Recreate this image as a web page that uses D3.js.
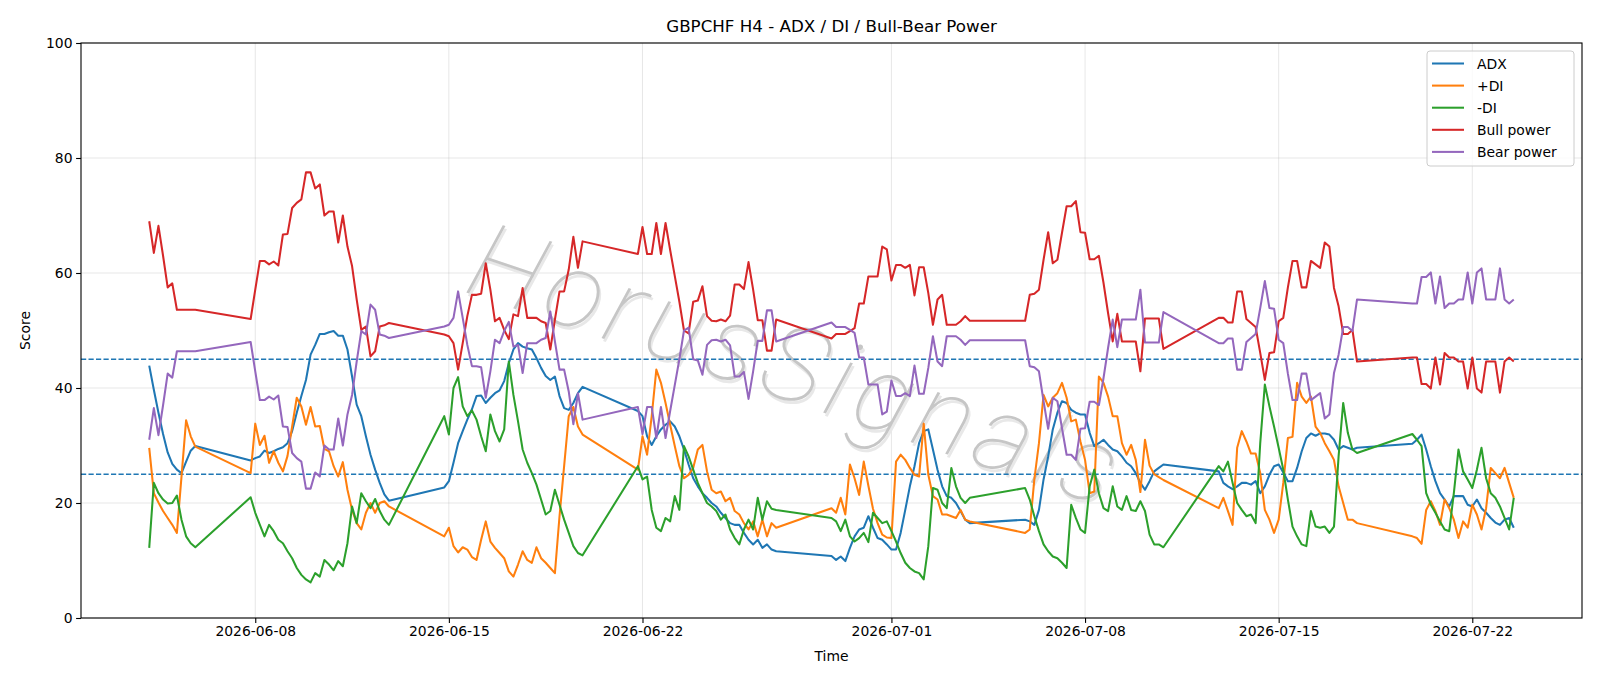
<!DOCTYPE html>
<html><head><meta charset="utf-8">
<script src="https://cdn.jsdelivr.net/npm/d3@7"></script>
<style>
body{margin:0;background:#fff}
svg{display:block}
text{font-family:"DejaVu Sans",sans-serif;fill:#000}
</style>
</head><body>
<svg id="chart" width="1600" height="686"></svg>
<script>
// H4 bar sessions: [first bar time (UTC), number of 4-hour bars]
const sessions = [
  ["2026-06-04T04:00:00Z", 11],
  ["2026-06-07T20:00:00Z", 31],
  ["2026-06-14T20:00:00Z", 31],
  ["2026-06-21T20:00:00Z", 31],
  ["2026-06-28T20:00:00Z", 31],
  ["2026-07-05T20:00:00Z", 31],
  ["2026-07-12T20:00:00Z", 31],
  ["2026-07-19T20:00:00Z", 23]
];
const xTickLabels = ["2026-06-08","2026-06-15","2026-06-22","2026-07-01","2026-07-08","2026-07-15","2026-07-22"];
const yTicks = [0,20,40,60,80,100];
const thresholds = [25,45];
const seriesNames = ["ADX","+DI","-DI","Bull power","Bear power"];
const watermarkText = "HorusSignals";

const adx = [
  43.9,39.7,35.7,32.0,28.8,26.8,25.8,25.2,27.2,29.1,29.9,
  27.4, 27.8,28.1,29.1,28.7,29.0,29.4, 29.7,30.4,32.5,35.7,38.6,41.4, 45.8,47.5,49.4,49.4,49.7,49.9, 49.1,49.1,46.7,42.0,37.1,35.1, 31.6,28.4,25.8,23.5,21.5,20.4,
  22.7, 23.8,27.0,30.4,32.5,34.5,36.3, 38.6,38.7,37.4,38.3,39.1,39.6, 41.2,44.3,46.7,47.8,47.2,46.9, 46.7,45.2,43.5,42.1,41.4,42.0, 38.6,36.5,36.2,37.4,39.1,40.2,
  36.0, 35.1,31.6,30.1,31.6,32.8,33.6, 34.2,33.3,31.6,29.3,26.7,24.3, 22.9,21.7,20.9,20.0,19.4,18.3, 17.4,16.5,16.2,16.2,14.8,13.6, 12.8,13.6,12.2,12.8,11.9,11.6,
  10.8, 10.1,10.7,9.9,12.2,14.2,15.4, 15.7,17.7,15.7,13.9,13.6,12.8, 11.9,11.9,14.8,18.8,22.9,26.4, 30.4,32.5,32.8,29.3,25.8,22.9, 21.2,20.9,20.0,18.6,17.1,16.5,
  17.1, 16.8,16.2,18.8,24.1,28.1,32.8, 35.7,37.7,37.4,36.2,35.7,35.4, 35.4,32.2,29.9,30.4,31.0,30.1, 29.3,29.0,28.1,27.0,26.4,25.2, 23.5,22.3,23.8,25.5,26.1,26.7,
  25.5, 23.5,22.9,22.4,22.9,23.5,23.5, 23.2,23.8,21.7,22.9,24.9,26.4, 26.7,25.3,23.8,23.8,26.1,29.0, 31.3,32.1,31.7,32.1,32.1,31.9, 31.0,29.3,29.9,29.6,29.3,29.6,
  30.3, 31.0,31.9,29.3,26.4,23.8,21.7, 20.6,19.4,21.2,21.2,21.2,19.7, 19.4,20.6,19.1,18.3,17.4,16.6, 16.2,17.1,17.4,15.7
];
const plusDI = [
  29.6,21.7,20.1,18.6,17.4,16.2,14.8,24.6,34.4,31.6,29.8,
  25.2, 33.8,30.1,31.7,27.0,29.0,27.0, 25.5,28.2,33.3,38.3,36.8,33.6, 36.7,33.3,33.4,29.4,29.0,26.4, 24.6,27.1,22.3,18.8,16.5,15.4, 18.3,20.0,18.3,20.0,20.3,19.4,
  14.2, 15.7,12.5,11.4,12.3,11.9,10.6, 10.1,13.6,16.8,13.3,12.2,11.3, 10.4,8.1,7.2,9.3,11.6,10.1, 9.6,12.3,10.4,9.6,8.7,7.8, 17.7,26.4,35.1,36.7,33.3,31.9,
  25.8, 31.6,28.4,35.1,43.2,40.9,37.4, 33.6,29.9,26.4,24.3,24.9,26.1, 29.3,30.1,25.5,22.3,21.7,22.0, 20.3,20.9,18.6,18.0,16.5,15.4, 16.8,14.2,17.1,14.2,16.5,15.7,
  19.1, 18.3,20.9,18.0,26.7,24.3,21.4, 27.2,23.0,19.0,16.5,14.5,14.0, 13.9,27.2,28.4,27.5,26.1,24.9, 24.6,33.8,24.9,21.2,20.6,18.0, 18.0,17.7,17.4,18.8,17.1,16.8,
  14.8, 15.4,24.1,30.4,38.8,36.8,38.3, 39.1,40.9,38.3,34.2,34.5,30.7, 27.5,21.7,22.0,42.0,40.9,38.5, 35.1,35.1,30.4,28.4,30.1,27.5, 21.9,31.0,26.5,25.0,24.5,24.0,
  19.1, 20.9,18.6,16.2,29.6,32.5,30.7, 28.6,28.6,25.2,18.8,17.1,14.8, 17.1,23.5,31.3,31.5,40.9,38.5, 37.4,38.5,33.3,32.2,30.4,29.0, 27.5,22.9,20.0,17.1,17.1,16.5,
  14.2, 13.9,12.9,18.8,20.3,18.6,16.2, 20.6,19.1,17.1,13.9,16.8,15.7, 19.7,18.0,15.4,19.1,26.1,25.2, 24.3,26.1,23.5,20.9
];
const minusDI = [
  12.2,23.5,21.7,20.6,19.9,20.0,21.3,17.1,14.2,13.0,12.3,
  21.0, 18.3,16.2,14.2,16.2,15.1,13.6, 13.0,11.6,10.4,8.7,7.5,6.7, 6.2,7.8,7.2,10.1,9.3,8.3, 9.9,9.0,13.0,19.4,16.5,21.7, 20.3,19.1,20.7,18.6,17.1,16.2,
  35.1, 31.9,40.0,41.9,36.8,35.1,36.1, 34.5,31.6,29.0,35.4,32.5,30.7, 32.8,44.6,38.8,34.2,29.3,27.0, 25.2,23.2,20.6,18.0,18.6,22.3, 19.7,17.1,14.8,12.5,11.3,10.9,
  26.4, 24.1,24.6,18.8,15.7,15.1,17.4, 16.8,21.2,18.8,29.9,28.1,25.8, 23.5,21.7,20.0,19.4,18.6,17.1, 18.0,15.4,13.9,12.8,15.4,17.1, 15.4,20.9,17.1,20.3,19.0,18.8,
  17.4, 16.8,15.1,17.1,14.2,13.3,13.9, 14.8,13.2,18.3,17.4,16.5,16.8, 15.1,13.3,11.3,9.6,8.7,8.1, 7.8,6.7,12.5,22.6,22.3,20.0, 19.1,26.1,22.9,20.9,20.0,20.9,
  22.6, 20.6,17.7,15.1,12.8,11.6,10.7, 10.4,9.6,8.7,19.7,17.4,15.4, 14.8,22.9,25.8,21.7,19.1,18.6, 22.9,19.4,18.8,21.2,18.8,18.6, 20.3,18.6,14.5,12.8,12.8,12.3,
  26.4, 25.5,27.2,23.5,20.0,18.8,17.7, 18.0,16.5,30.4,40.6,36.8,33.3, 29.6,25.8,20.6,15.9,14.2,12.8, 12.5,18.6,15.9,15.7,15.9,14.8, 15.9,28.1,37.4,32.2,29.3,28.7,
  32.0, 31.0,29.9,21.7,19.7,18.3,16.8, 15.4,15.1,21.7,29.3,25.5,24.1, 22.6,25.8,29.6,24.3,21.7,20.9, 19.4,17.4,15.4,20.9
];
const bullPower = [
  69.0,63.5,68.2,63.0,57.5,58.2,53.6,53.6,53.6,53.6,53.6,
  52.0, 57.1,62.1,62.1,61.5,62.0,61.3, 66.7,66.8,71.3,72.2,72.8,77.5, 77.5,74.7,75.4,70.0,70.7,70.7, 65.3,70.0,64.6,61.2,55.4,50.1, 50.7,45.5,46.4,50.7,50.9,51.3,
  49.3, 49.0,47.8,43.2,47.8,52.5,56.2, 56.2,56.4,61.7,57.1,51.6,52.2, 50.1,48.5,52.8,52.5,57.4,52.2, 52.2,52.2,51.6,51.3,46.7,51.9, 56.8,56.8,60.6,66.3,60.9,65.5,
  63.3, 68.0,63.3,63.3,68.7,63.3,68.7, 64.0,59.5,55.0,50.0,49.5,55.0, 55.2,57.7,52.5,51.7,51.6,51.9, 51.6,52.6,58.0,58.0,57.2,61.9, 57.1,51.8,51.8,46.5,46.5,51.9,
  48.6, 49.4,49.4,49.4,49.9,50.4,54.7, 54.7,59.4,59.4,59.4,64.6,64.1, 58.7,61.4,61.4,60.9,61.4,56.1, 61.0,61.0,56.5,51.0,55.4,56.2, 51.0,51.0,51.0,51.6,52.5,51.7,
  51.7, 56.2,56.4,57.1,62.3,67.1,61.7, 62.3,67.0,71.6,71.6,72.5,67.1, 67.0,62.4,62.4,63.0,58.3,53.0, 48.1,52.9,48.1,48.1,48.1,48.1, 42.9,52.1,52.1,52.1,52.1,46.8,
  52.2, 52.2,51.4,51.4,56.8,56.8,52.0, 51.3,50.6,46.1,41.4,46.1,46.2, 51.6,52.2,57.5,62.1,62.1,57.5, 57.5,62.1,61.5,60.9,65.3,64.6, 57.4,54.2,49.4,49.4,50.1,44.6,
  45.3, 45.3,40.7,40.7,39.9,45.3,40.6, 46.1,45.3,45.3,44.6,44.6,39.9, 45.3,39.9,39.2,44.6,44.6,44.6, 39.2,44.6,45.3,44.6
];
const bearPower = [
  31.0,36.5,31.8,37.0,42.5,41.8,46.4,46.4,46.4,46.4,46.4,
  48.0, 42.9,37.9,37.9,38.5,38.0,38.7, 33.3,33.2,28.7,27.8,27.2,22.5, 22.5,25.3,24.6,30.0,29.3,29.3, 34.7,30.0,35.4,38.8,44.6,49.9, 49.3,54.5,53.6,49.3,49.1,48.7,
  50.7, 51.0,52.2,56.8,52.2,47.5,43.8, 43.8,43.6,38.3,42.9,48.4,47.8, 49.9,51.5,47.2,47.5,42.6,47.8, 47.8,47.8,48.4,48.7,53.3,48.1, 43.2,43.2,39.4,33.7,39.1,34.5,
  36.7, 32.0,36.7,36.7,31.3,36.7,31.3, 36.0,40.5,45.0,50.0,50.5,45.0, 44.8,42.3,47.5,48.3,48.4,48.1, 48.4,47.4,42.0,42.0,42.8,38.1, 42.9,48.2,48.2,53.5,53.5,48.1,
  51.4, 50.6,50.6,50.6,50.1,49.6,45.3, 45.3,40.6,40.6,40.6,35.4,35.9, 41.3,38.6,38.6,39.1,38.6,43.9, 39.0,39.0,43.5,49.0,44.6,43.8, 49.0,49.0,49.0,48.4,47.5,48.3,
  48.3, 43.8,43.6,42.9,37.7,32.9,38.3, 37.7,33.0,28.4,28.4,27.5,32.9, 33.0,37.6,37.6,37.0,41.7,47.0, 51.9,47.1,51.9,51.9,51.9,51.9, 57.1,47.9,47.9,47.9,47.9,53.2,
  47.8, 47.8,48.6,48.6,43.2,43.2,48.0, 48.7,49.4,53.9,58.6,53.9,53.8, 48.4,47.8,42.5,37.9,37.9,42.5, 42.5,37.9,38.5,39.1,34.7,35.4, 42.6,45.8,50.6,50.6,49.9,55.4,
  54.7, 54.7,59.3,59.3,60.1,54.7,59.4, 53.9,54.7,54.7,55.4,55.4,60.1, 54.7,60.1,60.8,55.4,55.4,55.4, 60.8,55.4,54.7,55.4
];
const colors = ["#1f77b4","#ff7f0e","#2ca02c","#d62728","#9467bd"];

// ---- build time axis categories from the sessions
const H4 = 4*3600*1000;
const times = [];
sessions.forEach(([s,n]) => { const t0 = Date.parse(s); for (let i=0;i<n;i++) times.push(new Date(t0 + i*H4)); });

const svg = d3.select("#chart");
const L = 81, R = 1582, T = 43, B = 618;
const tMin = times[0], tMax = times[times.length-1];
const span = tMax - tMin;
const x = d3.scaleUtc().domain([new Date(+tMin - 0.05*span), new Date(+tMax + 0.05*span)]).range([L, R]);
const y = d3.scaleLinear().domain([0,100]).range([B, T]);
const xTickDates = xTickLabels.map(s => new Date(s + "T00:00:00Z"));

// grid
const grid = svg.append("g");
grid.selectAll("line.gx").data(xTickDates).join("line")
  .attr("x1", d=>x(d)).attr("x2", d=>x(d)).attr("y1", T).attr("y2", B)
  .attr("stroke", "#b0b0b0").attr("stroke-opacity", 0.3).attr("stroke-width", 1);
grid.selectAll("line.gy").data(yTicks).join("line")
  .attr("x1", L).attr("x2", R).attr("y1", d=>y(d)).attr("y2", d=>y(d))
  .attr("stroke", "#b0b0b0").attr("stroke-opacity", 0.3).attr("stroke-width", 1);

// watermark (thin italic, light grey with faint shadow)
const wm = svg.append("g").attr("transform", "translate(462,291) rotate(18.6)");
const wmStyle = sel => sel.text(watermarkText)
  .attr("textLength", 676).attr("lengthAdjust", "spacing")
  .style("font-family", "Roboto, Lato, 'Open Sans', sans-serif")
  .style("font-size", "106px").style("font-weight", 100).style("font-style", "italic");
wm.append("text").call(wmStyle).attr("x", 2.5).attr("y", 2.5).style("fill", "#e8e8e8");
wm.append("text").call(wmStyle).attr("x", 0).attr("y", 0).style("fill", "#c6c6c6");

// thresholds
svg.selectAll("line.th").data(thresholds).join("line")
  .attr("x1", L).attr("x2", R).attr("y1", d=>y(d)).attr("y2", d=>y(d))
  .attr("stroke", "#1f77b4").attr("stroke-width", 1.4).attr("stroke-dasharray", "5.2,2.3");

// series
const allSeries = [adx, plusDI, minusDI, bullPower, bearPower];
const line = d3.line().x(d=>x(d[0])).y(d=>y(d[1]));
allSeries.forEach((vals, k) => {
  const n = Math.min(vals.length, times.length);
  const pts = d3.range(n).map(i => [times[i], vals[i]]);
  svg.append("path").datum(pts).attr("d", line)
    .attr("fill", "none").attr("stroke", colors[k]).attr("stroke-width", 2.05)
    .attr("stroke-linejoin", "round").attr("stroke-linecap", "butt");
});

// frame
svg.append("rect").attr("x", L).attr("y", T).attr("width", R-L).attr("height", B-T)
  .attr("fill", "none").attr("stroke", "#000").attr("stroke-width", 1.1);

// axes
const xAxis = svg.append("g").attr("transform", `translate(0,${B})`)
  .call(d3.axisBottom(x).tickValues(xTickDates).tickFormat(d3.utcFormat("%Y-%m-%d")).tickSize(4.9).tickPadding(3.6).tickSizeOuter(0));
const yAxis = svg.append("g").attr("transform", `translate(${L},0)`)
  .call(d3.axisLeft(y).tickValues(yTicks).tickSize(4.9).tickPadding(3.6).tickSizeOuter(0));
[xAxis, yAxis].forEach(a => {
  a.select(".domain").remove();
  a.selectAll(".tick line").attr("stroke", "#000").attr("stroke-width", 1.1);
  a.selectAll(".tick text").style("font-size", "13.9px").style("font-family", "'DejaVu Sans',sans-serif").attr("fill", "#000");
});

// labels
svg.append("text").text("GBPCHF H4 - ADX / DI / Bull-Bear Power").attr("x", (L+R)/2).attr("y", 32)
  .attr("text-anchor", "middle").style("font-size", "16.7px");
svg.append("text").text("Time").attr("x", (L+R)/2).attr("y", 661)
  .attr("text-anchor", "middle").style("font-size", "13.9px");
svg.append("text").text("Score").attr("transform", `translate(30,${(T+B)/2}) rotate(-90)`)
  .attr("text-anchor", "middle").style("font-size", "13.9px");

// legend
const lg = svg.append("g");
lg.append("rect").attr("x", 1427).attr("y", 51).attr("width", 147).attr("height", 115).attr("rx", 3)
  .attr("fill", "#fff").attr("fill-opacity", 0.8).attr("stroke", "#cccccc").attr("stroke-width", 1);
seriesNames.forEach((nm, i) => {
  const cy = 63.5 + i*22.1;
  lg.append("line").attr("x1", 1432).attr("x2", 1464).attr("y1", cy).attr("y2", cy)
    .attr("stroke", colors[i]).attr("stroke-width", 2.05);
  lg.append("text").text(nm).attr("x", 1477).attr("y", cy + 5).style("font-size", "13.9px");
});
</script>
</body></html>
